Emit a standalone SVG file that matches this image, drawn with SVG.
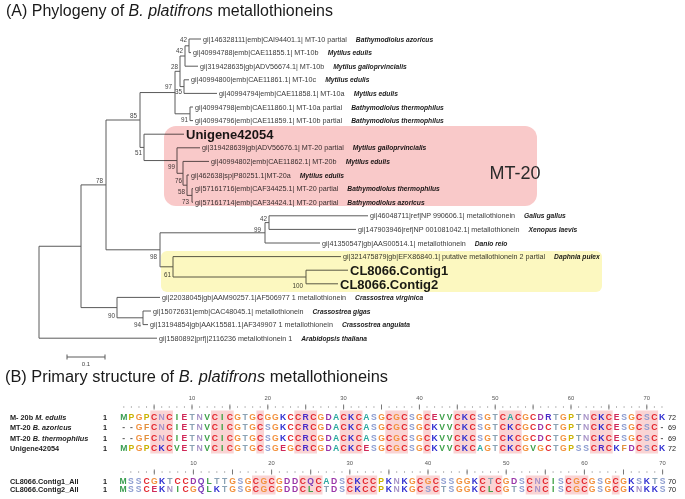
<svg xmlns="http://www.w3.org/2000/svg" width="685" height="499" viewBox="0 0 685 499">
<style>
text{font-family:'Liberation Sans',Arial,sans-serif}
.title{font-size:16px;fill:#1a1a1a}
.gi{font-size:7.2px;fill:#3a3a3a}
.sp{font-size:6.7px;font-weight:bold;font-style:italic;fill:#1a1a1a}
.bs{font-size:6.3px;fill:#444;text-anchor:end}
.big{font-size:13px;font-weight:bold;fill:#1a1a1a}
.br{fill:none;stroke:#5a5a5a;stroke-width:1}
.nm{font-size:7.3px;font-weight:bold;fill:#222}
.ct{font-size:7.3px;fill:#222}
.rn{font-size:5.8px;fill:#555;text-anchor:middle}
.seq{font-size:8.6px;font-weight:bold;text-anchor:middle}
.hl{fill:#fad4d4}
.C{fill:#e3262d}.K{fill:#2b2bd0}.R{fill:#4a2bc8}.G{fill:#f2913d}.P{fill:#c9b200}
.M{fill:#3a9e50}.I{fill:#3aa040}.V{fill:#3fa04a}.L{fill:#3fa04a}.F{fill:#e0903c}
.A{fill:#2aa8a0}.E{fill:#d02858}.D{fill:#9a36a8}.S{fill:#8c9cd0}.T{fill:#8aa2b4}
.N{fill:#a894c8}.Q{fill:#7a3ab8}.gap{fill:#666}
</style>

<text class="title" x="6" y="16" textLength="327" lengthAdjust="spacingAndGlyphs">(A) Phylogeny of <tspan font-style="italic">B. platifrons</tspan> metallothioneins</text>

<g id="tree-branches" class="br">
<path d="M39 246.25V338.2M39 246.25H81M39 338.2H157M81 184.9V307.6M81 184.9H106M81 307.6H117M106 120V249.8M106 120H140M106 249.8H160M140 92.55V147.4M140 92.55H175M140 147.4H144M175 71.3V113.8M175 71.3H180M175 113.8H190M180 56V86.6M180 56H185M180 86.6H184M185 45.8V66.2M185 45.8H189M185 66.2H198M189 39V52.6M189 39H201M189 52.6H191M184 79.8V93.4M184 79.8H189M184 93.4H217M190 107V120.6M190 107H193M190 120.6H193M144 134.2V160.55M144 134.2H184M144 160.55H177M177 147.8V173.3M177 147.8H200M177 173.3H183M183 161.4V185.2M183 161.4H209M183 185.2H187M187 175V195.4M187 175H189M187 195.4H192M192 188.6V202.2M192 188.6H193M192 202.2H193M160 232.8V266.8M160 232.8H265M160 266.8H173M265 222.6V243M265 222.6H269M265 243H320M269 215.8V229.4M269 215.8H368M269 229.4H356M173 256.6V277M173 256.6H341M173 277H306M306 270.2V283.8M306 270.2H348M306 283.8H338M117 297.4V317.8M117 297.4H160M117 317.8H143M143 311V324.6M143 311H151M143 324.6H148"/>
</g>

<g id="bootstrap">
<text class="bs" x="187" y="42">42</text>
<text class="bs" x="183" y="53">42</text>
<text class="bs" x="178" y="69">28</text>
<text class="bs" x="172" y="89">97</text>
<text class="bs" x="182" y="94">35</text>
<text class="bs" x="188" y="121.5">91</text>
<text class="bs" x="137" y="117.5">85</text>
<text class="bs" x="142" y="155">51</text>
<text class="bs" x="103" y="182.5">78</text>
<text class="bs" x="175" y="169">99</text>
<text class="bs" x="182" y="182.5">76</text>
<text class="bs" x="185" y="194">58</text>
<text class="bs" x="189" y="204">73</text>
<text class="bs" x="267" y="220.5">42</text>
<text class="bs" x="261" y="231.5">99</text>
<text class="bs" x="157" y="259">98</text>
<text class="bs" x="171" y="276.5">61</text>
<text class="bs" x="303" y="287.5">100</text>
<text class="bs" x="115" y="317.5">90</text>
<text class="bs" x="141" y="327">94</text>
</g>

<g id="leaf1"><text class="gi" x="203" y="41.5">gi|146328111|emb|CAI94401.1| MT-10 partial<tspan class="sp" dx="9">Bathymodiolus azoricus</tspan></text></g>
<g id="leaf2"><text class="gi" x="193" y="55.1">gi|40994788|emb|CAE11855.1| MT-10b<tspan class="sp" dx="9">Mytilus edulis</tspan></text></g>
<g id="leaf3"><text class="gi" x="200" y="68.7">gi|319428635|gb|ADV56674.1| MT-10b<tspan class="sp" dx="9">Mytilus galloprvincialis</tspan></text></g>
<g id="leaf4"><text class="gi" x="191" y="82.3">gi|40994800|emb|CAE11861.1| MT-10c<tspan class="sp" dx="9">Mytilus edulis</tspan></text></g>
<g id="leaf5"><text class="gi" x="219" y="95.9">gi|40994794|emb|CAE11858.1| MT-10a<tspan class="sp" dx="9">Mytilus edulis</tspan></text></g>
<g id="leaf6"><text class="gi" x="195" y="109.5">gi|40994798|emb|CAE11860.1| MT-10a partial<tspan class="sp" dx="9">Bathymodiolus thermophilus</tspan></text></g>
<g id="leaf7"><text class="gi" x="195" y="123.1">gi|40994796|emb|CAE11859.1| MT-10b partial<tspan class="sp" dx="9">Bathymodiolus thermophilus</tspan></text></g>
<g id="leaf8"><text class="big" x="186" y="138.9">Unigene42054</text></g>
<g id="leaf9"><text class="gi" x="202" y="150.3">gi|319428639|gb|ADV56676.1| MT-20 partial<tspan class="sp" dx="9">Mytilus galloprvincialis</tspan></text></g>
<g id="leaf10"><text class="gi" x="211" y="163.9">gi|40994802|emb|CAE11862.1| MT-20b<tspan class="sp" dx="9">Mytilus edulis</tspan></text></g>
<g id="leaf11"><text class="gi" x="191" y="177.5">gi|462638|sp|P80251.1|MT-20a<tspan class="sp" dx="9">Mytilus edulis</tspan></text></g>
<g id="leaf12"><text class="gi" x="195" y="191.1">gi|57161716|emb|CAF34425.1| MT-20 partial<tspan class="sp" dx="9">Bathymodiolus thermophilus</tspan></text></g>
<g id="leaf13"><text class="gi" x="195" y="204.7">gi|57161714|emb|CAF34424.1| MT-20 partial<tspan class="sp" dx="9">Bathymodiolus azoricus</tspan></text></g>
<g id="leaf14"><text class="gi" x="370" y="218.3">gi|46048711|ref|NP 990606.1| metallothionein<tspan class="sp" dx="9">Gallus gallus</tspan></text></g>
<g id="leaf15"><text class="gi" x="358" y="231.9">gi|147903946|ref|NP 001081042.1| metallothionein<tspan class="sp" dx="9">Xenopus laevis</tspan></text></g>
<g id="leaf16"><text class="gi" x="322" y="245.5">gi|41350547|gb|AAS00514.1| metallothionein<tspan class="sp" dx="9">Danio reio</tspan></text></g>
<g id="leaf17"><text class="gi" x="343" y="259.1">gi|321475879|gb|EFX86840.1| putative metallothionein 2 partial<tspan class="sp" dx="9">Daphnia pulex</tspan></text></g>
<g id="leaf18"><text class="big" x="350" y="274.9">CL8066.Contig1</text></g>
<g id="leaf19"><text class="big" x="340" y="288.5">CL8066.Contig2</text></g>
<g id="leaf20"><text class="gi" x="162" y="299.9">gi|22038045|gb|AAM90257.1|AF506977 1 metallothionein<tspan class="sp" dx="9">Crassostrea virginica</tspan></text></g>
<g id="leaf21"><text class="gi" x="153" y="313.5">gi|15072631|emb|CAC48045.1| metallothionein<tspan class="sp" dx="9">Crassostrea gigas</tspan></text></g>
<g id="leaf22"><text class="gi" x="150" y="327.1">gi|13194854|gb|AAK15581.1|AF349907 1 metallothionein<tspan class="sp" dx="9">Crassostrea angulata</tspan></text></g>
<g id="leaf23"><text class="gi" x="159" y="340.7">gi|1580892|prf||2116236 metallothionein 1<tspan class="sp" dx="9">Arabidopsis thaliana</tspan></text></g>

<g id="box-mt20">
<rect x="164" y="126" width="373" height="80" rx="12" fill="#f9c9c9" style="mix-blend-mode:multiply"/>
<text x="515" y="179" font-size="18" text-anchor="middle" fill="#2a2a2a">MT-20</text>
</g>
<g id="box-contig">
<rect x="161" y="251" width="441" height="41" rx="6" fill="#fcf8c0" style="mix-blend-mode:multiply"/>
</g>

<g id="scale-bar">
<path class="br" d="M67 357H105M67 354.5V359.5M105 354.5V359.5"/>
<text x="86" y="365.5" font-size="6" text-anchor="middle" fill="#444">0.1</text>
</g>

<text class="title" x="5" y="382" textLength="383" lengthAdjust="spacingAndGlyphs">(B) Primary structure of <tspan font-style="italic">B. platifrons</tspan> metallothioneins</text>

<g id="alignment-block1">
<g class="hl">
<rect x="150.3" y="410.5" width="22.7" height="43"/>
<rect x="211" y="410.5" width="22.7" height="43"/>
<rect x="256.4" y="410.5" width="7.6" height="43"/>
<rect x="294.3" y="410.5" width="22.7" height="43"/>
<rect x="339.8" y="410.5" width="22.7" height="43"/>
<rect x="385.3" y="410.5" width="22.7" height="43"/>
<rect x="423.2" y="410.5" width="7.6" height="43"/>
<rect x="453.5" y="410.5" width="22.7" height="43"/>
<rect x="499" y="410.5" width="22.7" height="43"/>
<rect x="590" y="410.5" width="22.7" height="43"/>
<rect x="635.4" y="410.5" width="22.7" height="43"/>
</g>
<line x1="123.3" y1="407" x2="663" y2="407" stroke="#777" stroke-width="1" stroke-dasharray="1 6.58"/>
<line x1="153.6" y1="407" x2="648" y2="407" stroke="#777" stroke-width="5" stroke-dasharray="1 36.9"/>
<text class="rn" x="192" y="400">10</text><text class="rn" x="267.8" y="400">20</text><text class="rn" x="343.6" y="400">30</text><text class="rn" x="419.4" y="400">40</text><text class="rn" x="495.2" y="400">50</text><text class="rn" x="571" y="400">60</text><text class="rn" x="646.8" y="400">70</text>
<text class="nm" x="10" y="419.5">M- 20b <tspan font-style="italic">M. edulis</tspan></text>
<text class="nm" x="10" y="430">MT-20 <tspan font-style="italic">B. azoricus</tspan></text>
<text class="nm" x="10" y="440.6">MT-20 <tspan font-style="italic">B. thermophilus</tspan></text>
<text class="nm" x="10" y="451.1">Unigene42054</text>
<text class="nm" x="103" y="419.5">1</text><text class="nm" x="103" y="430">1</text><text class="nm" x="103" y="440.6">1</text><text class="nm" x="103" y="451.1">1</text>
<text class="ct" x="668" y="419.5">72</text><text class="ct" x="668" y="430">69</text><text class="ct" x="668" y="440.6">69</text><text class="ct" x="668" y="451.1">72</text>
<text class="seq" y="419.5" x="123.8 131.4 139 146.5 154.1 161.7 169.3 176.9 184.4 192 199.6 207.2 214.8 222.3 229.9 237.5 245.1 252.7 260.2 267.8 275.4 283 290.6 298.1 305.7 313.3 320.9 328.5 336 343.6 351.2 358.8 366.4 373.9 381.5 389.1 396.7 404.3 411.8 419.4 427 434.6 442.2 449.7 457.3 464.9 472.5 480.1 487.6 495.2 502.8 510.4 518 525.5 533.1 540.7 548.3 555.9 563.4 571 578.6 586.2 593.8 601.3 608.9 616.5 624.1 631.7 639.2 646.8 654.4 662"><tspan class="M">M</tspan><tspan class="P">P</tspan><tspan class="G">G</tspan><tspan class="P">P</tspan><tspan class="C">C</tspan><tspan class="N">N</tspan><tspan class="C">C</tspan><tspan class="I">I</tspan><tspan class="E">E</tspan><tspan class="T">T</tspan><tspan class="N">N</tspan><tspan class="V">V</tspan><tspan class="C">C</tspan><tspan class="I">I</tspan><tspan class="C">C</tspan><tspan class="G">G</tspan><tspan class="T">T</tspan><tspan class="G">G</tspan><tspan class="C">C</tspan><tspan class="G">GG</tspan><tspan class="K">K</tspan><tspan class="C">CC</tspan><tspan class="R">R</tspan><tspan class="C">C</tspan><tspan class="G">G</tspan><tspan class="D">D</tspan><tspan class="A">A</tspan><tspan class="C">C</tspan><tspan class="K">K</tspan><tspan class="C">C</tspan><tspan class="A">A</tspan><tspan class="S">S</tspan><tspan class="G">G</tspan><tspan class="C">C</tspan><tspan class="G">G</tspan><tspan class="C">C</tspan><tspan class="S">S</tspan><tspan class="G">G</tspan><tspan class="C">C</tspan><tspan class="E">E</tspan><tspan class="V">VV</tspan><tspan class="C">C</tspan><tspan class="K">K</tspan><tspan class="C">C</tspan><tspan class="S">S</tspan><tspan class="G">G</tspan><tspan class="T">T</tspan><tspan class="C">C</tspan><tspan class="A">A</tspan><tspan class="C">C</tspan><tspan class="G">G</tspan><tspan class="C">C</tspan><tspan class="D">D</tspan><tspan class="R">R</tspan><tspan class="T">T</tspan><tspan class="G">G</tspan><tspan class="P">P</tspan><tspan class="T">T</tspan><tspan class="N">N</tspan><tspan class="C">C</tspan><tspan class="K">K</tspan><tspan class="C">C</tspan><tspan class="E">E</tspan><tspan class="S">S</tspan><tspan class="G">G</tspan><tspan class="C">C</tspan><tspan class="S">S</tspan><tspan class="C">C</tspan><tspan class="K">K</tspan></text>
<text class="seq" y="430" x="123.8 131.4 139 146.5 154.1 161.7 169.3 176.9 184.4 192 199.6 207.2 214.8 222.3 229.9 237.5 245.1 252.7 260.2 267.8 275.4 283 290.6 298.1 305.7 313.3 320.9 328.5 336 343.6 351.2 358.8 366.4 373.9 381.5 389.1 396.7 404.3 411.8 419.4 427 434.6 442.2 449.7 457.3 464.9 472.5 480.1 487.6 495.2 502.8 510.4 518 525.5 533.1 540.7 548.3 555.9 563.4 571 578.6 586.2 593.8 601.3 608.9 616.5 624.1 631.7 639.2 646.8 654.4 662"><tspan class="gap">--</tspan><tspan class="G">G</tspan><tspan class="F">F</tspan><tspan class="C">C</tspan><tspan class="N">N</tspan><tspan class="C">C</tspan><tspan class="I">I</tspan><tspan class="E">E</tspan><tspan class="T">T</tspan><tspan class="N">N</tspan><tspan class="V">V</tspan><tspan class="C">C</tspan><tspan class="I">I</tspan><tspan class="C">C</tspan><tspan class="G">G</tspan><tspan class="T">T</tspan><tspan class="G">G</tspan><tspan class="C">C</tspan><tspan class="S">S</tspan><tspan class="G">G</tspan><tspan class="K">K</tspan><tspan class="C">CC</tspan><tspan class="R">R</tspan><tspan class="C">C</tspan><tspan class="G">G</tspan><tspan class="D">D</tspan><tspan class="A">A</tspan><tspan class="C">C</tspan><tspan class="K">K</tspan><tspan class="C">C</tspan><tspan class="A">A</tspan><tspan class="S">S</tspan><tspan class="G">G</tspan><tspan class="C">C</tspan><tspan class="G">G</tspan><tspan class="C">C</tspan><tspan class="S">S</tspan><tspan class="G">G</tspan><tspan class="C">C</tspan><tspan class="K">K</tspan><tspan class="V">VV</tspan><tspan class="C">C</tspan><tspan class="K">K</tspan><tspan class="C">C</tspan><tspan class="S">S</tspan><tspan class="G">G</tspan><tspan class="T">T</tspan><tspan class="C">C</tspan><tspan class="K">K</tspan><tspan class="C">C</tspan><tspan class="G">G</tspan><tspan class="C">C</tspan><tspan class="D">D</tspan><tspan class="C">C</tspan><tspan class="T">T</tspan><tspan class="G">G</tspan><tspan class="P">P</tspan><tspan class="T">T</tspan><tspan class="N">N</tspan><tspan class="C">C</tspan><tspan class="K">K</tspan><tspan class="C">C</tspan><tspan class="E">E</tspan><tspan class="S">S</tspan><tspan class="G">G</tspan><tspan class="C">C</tspan><tspan class="S">S</tspan><tspan class="C">C</tspan><tspan class="gap">-</tspan></text>
<text class="seq" y="440.6" x="123.8 131.4 139 146.5 154.1 161.7 169.3 176.9 184.4 192 199.6 207.2 214.8 222.3 229.9 237.5 245.1 252.7 260.2 267.8 275.4 283 290.6 298.1 305.7 313.3 320.9 328.5 336 343.6 351.2 358.8 366.4 373.9 381.5 389.1 396.7 404.3 411.8 419.4 427 434.6 442.2 449.7 457.3 464.9 472.5 480.1 487.6 495.2 502.8 510.4 518 525.5 533.1 540.7 548.3 555.9 563.4 571 578.6 586.2 593.8 601.3 608.9 616.5 624.1 631.7 639.2 646.8 654.4 662"><tspan class="gap">--</tspan><tspan class="G">G</tspan><tspan class="F">F</tspan><tspan class="C">C</tspan><tspan class="N">N</tspan><tspan class="C">C</tspan><tspan class="I">I</tspan><tspan class="E">E</tspan><tspan class="T">T</tspan><tspan class="N">N</tspan><tspan class="V">V</tspan><tspan class="C">C</tspan><tspan class="I">I</tspan><tspan class="C">C</tspan><tspan class="G">G</tspan><tspan class="T">T</tspan><tspan class="G">G</tspan><tspan class="C">C</tspan><tspan class="S">S</tspan><tspan class="G">G</tspan><tspan class="K">K</tspan><tspan class="C">CC</tspan><tspan class="R">R</tspan><tspan class="C">C</tspan><tspan class="G">G</tspan><tspan class="D">D</tspan><tspan class="A">A</tspan><tspan class="C">C</tspan><tspan class="K">K</tspan><tspan class="C">C</tspan><tspan class="A">A</tspan><tspan class="S">S</tspan><tspan class="G">G</tspan><tspan class="C">C</tspan><tspan class="G">G</tspan><tspan class="C">C</tspan><tspan class="S">S</tspan><tspan class="G">G</tspan><tspan class="C">C</tspan><tspan class="K">K</tspan><tspan class="V">VV</tspan><tspan class="C">C</tspan><tspan class="K">K</tspan><tspan class="C">C</tspan><tspan class="S">S</tspan><tspan class="G">G</tspan><tspan class="T">T</tspan><tspan class="C">C</tspan><tspan class="K">K</tspan><tspan class="C">C</tspan><tspan class="G">G</tspan><tspan class="C">C</tspan><tspan class="D">D</tspan><tspan class="C">C</tspan><tspan class="T">T</tspan><tspan class="G">G</tspan><tspan class="P">P</tspan><tspan class="T">T</tspan><tspan class="N">N</tspan><tspan class="C">C</tspan><tspan class="K">K</tspan><tspan class="C">C</tspan><tspan class="E">E</tspan><tspan class="S">S</tspan><tspan class="G">G</tspan><tspan class="C">C</tspan><tspan class="S">S</tspan><tspan class="C">C</tspan><tspan class="gap">-</tspan></text>
<text class="seq" y="451.1" x="123.8 131.4 139 146.5 154.1 161.7 169.3 176.9 184.4 192 199.6 207.2 214.8 222.3 229.9 237.5 245.1 252.7 260.2 267.8 275.4 283 290.6 298.1 305.7 313.3 320.9 328.5 336 343.6 351.2 358.8 366.4 373.9 381.5 389.1 396.7 404.3 411.8 419.4 427 434.6 442.2 449.7 457.3 464.9 472.5 480.1 487.6 495.2 502.8 510.4 518 525.5 533.1 540.7 548.3 555.9 563.4 571 578.6 586.2 593.8 601.3 608.9 616.5 624.1 631.7 639.2 646.8 654.4 662"><tspan class="M">M</tspan><tspan class="P">P</tspan><tspan class="G">G</tspan><tspan class="P">P</tspan><tspan class="C">C</tspan><tspan class="K">K</tspan><tspan class="C">C</tspan><tspan class="V">V</tspan><tspan class="E">E</tspan><tspan class="T">T</tspan><tspan class="N">N</tspan><tspan class="V">V</tspan><tspan class="C">C</tspan><tspan class="I">I</tspan><tspan class="C">C</tspan><tspan class="G">G</tspan><tspan class="T">T</tspan><tspan class="G">G</tspan><tspan class="C">C</tspan><tspan class="S">S</tspan><tspan class="G">G</tspan><tspan class="E">E</tspan><tspan class="G">G</tspan><tspan class="C">C</tspan><tspan class="R">R</tspan><tspan class="C">C</tspan><tspan class="G">G</tspan><tspan class="D">D</tspan><tspan class="A">A</tspan><tspan class="C">C</tspan><tspan class="K">K</tspan><tspan class="C">C</tspan><tspan class="E">E</tspan><tspan class="S">S</tspan><tspan class="G">G</tspan><tspan class="C">C</tspan><tspan class="G">G</tspan><tspan class="C">C</tspan><tspan class="S">S</tspan><tspan class="G">G</tspan><tspan class="C">C</tspan><tspan class="K">K</tspan><tspan class="V">VV</tspan><tspan class="C">C</tspan><tspan class="K">K</tspan><tspan class="C">C</tspan><tspan class="A">A</tspan><tspan class="G">G</tspan><tspan class="T">T</tspan><tspan class="C">C</tspan><tspan class="K">K</tspan><tspan class="C">C</tspan><tspan class="G">G</tspan><tspan class="V">V</tspan><tspan class="G">G</tspan><tspan class="C">C</tspan><tspan class="T">T</tspan><tspan class="G">G</tspan><tspan class="P">P</tspan><tspan class="S">SS</tspan><tspan class="C">C</tspan><tspan class="R">R</tspan><tspan class="C">C</tspan><tspan class="K">K</tspan><tspan class="F">F</tspan><tspan class="D">D</tspan><tspan class="C">C</tspan><tspan class="S">S</tspan><tspan class="C">C</tspan><tspan class="K">K</tspan></text>
</g>

<g id="alignment-block2">
<g class="hl">
<rect x="252" y="475.5" width="23.5" height="19"/>
<rect x="299" y="475.5" width="23.5" height="19"/>
<rect x="345.9" y="475.5" width="31.3" height="19"/>
<rect x="416.3" y="475.5" width="23.5" height="19"/>
<rect x="478.8" y="475.5" width="23.5" height="19"/>
<rect x="525.7" y="475.5" width="23.5" height="19"/>
<rect x="564.8" y="475.5" width="23.5" height="19"/>
<rect x="611.8" y="475.5" width="7.8" height="19"/>
</g>
<line x1="122.5" y1="472" x2="663.5" y2="472" stroke="#777" stroke-width="1" stroke-dasharray="1 6.82"/>
<line x1="153.8" y1="472" x2="664" y2="472" stroke="#777" stroke-width="5" stroke-dasharray="1 38.1"/>
<text class="rn" x="193.4" y="465">10</text><text class="rn" x="271.6" y="465">20</text><text class="rn" x="349.8" y="465">30</text><text class="rn" x="428" y="465">40</text><text class="rn" x="506.2" y="465">50</text><text class="rn" x="584.4" y="465">60</text><text class="rn" x="662.6" y="465">70</text>
<text class="nm" x="10" y="483.5">CL8066.Contig1_All</text>
<text class="nm" x="10" y="492">CL8066.Contig2_All</text>
<text class="nm" x="103" y="483.5">1</text><text class="nm" x="103" y="492">1</text>
<text class="ct" x="668" y="483.5">70</text><text class="ct" x="668" y="492">70</text>
<text class="seq" y="483.5" x="123 130.8 138.6 146.5 154.3 162.1 169.9 177.7 185.6 193.4 201.2 209 216.8 224.7 232.5 240.3 248.1 255.9 263.8 271.6 279.4 287.2 295 302.9 310.7 318.5 326.3 334.1 342 349.8 357.6 365.4 373.2 381.1 388.9 396.7 404.5 412.3 420.2 428 435.8 443.6 451.4 459.3 467.1 474.9 482.7 490.5 498.4 506.2 514 521.8 529.6 537.5 545.3 553.1 560.9 568.7 576.6 584.4 592.2 600 607.8 615.7 623.5 631.3 639.1 646.9 654.8 662.6"><tspan class="M">M</tspan><tspan class="S">SS</tspan><tspan class="C">C</tspan><tspan class="G">G</tspan><tspan class="K">K</tspan><tspan class="T">T</tspan><tspan class="C">CC</tspan><tspan class="D">D</tspan><tspan class="Q">Q</tspan><tspan class="L">L</tspan><tspan class="T">TT</tspan><tspan class="G">G</tspan><tspan class="S">S</tspan><tspan class="G">G</tspan><tspan class="C">C</tspan><tspan class="G">G</tspan><tspan class="C">C</tspan><tspan class="G">G</tspan><tspan class="D">DD</tspan><tspan class="C">C</tspan><tspan class="Q">Q</tspan><tspan class="C">C</tspan><tspan class="A">A</tspan><tspan class="D">D</tspan><tspan class="S">S</tspan><tspan class="C">C</tspan><tspan class="K">K</tspan><tspan class="C">CC</tspan><tspan class="P">P</tspan><tspan class="K">K</tspan><tspan class="N">N</tspan><tspan class="K">K</tspan><tspan class="G">G</tspan><tspan class="C">C</tspan><tspan class="G">G</tspan><tspan class="C">C</tspan><tspan class="S">SS</tspan><tspan class="G">GG</tspan><tspan class="K">K</tspan><tspan class="C">C</tspan><tspan class="T">T</tspan><tspan class="C">C</tspan><tspan class="G">G</tspan><tspan class="D">D</tspan><tspan class="S">S</tspan><tspan class="C">C</tspan><tspan class="N">N</tspan><tspan class="C">C</tspan><tspan class="I">I</tspan><tspan class="S">S</tspan><tspan class="C">C</tspan><tspan class="G">G</tspan><tspan class="C">C</tspan><tspan class="G">G</tspan><tspan class="S">S</tspan><tspan class="G">G</tspan><tspan class="C">C</tspan><tspan class="G">G</tspan><tspan class="K">K</tspan><tspan class="S">S</tspan><tspan class="K">K</tspan><tspan class="T">T</tspan><tspan class="S">S</tspan></text>
<text class="seq" y="492" x="123 130.8 138.6 146.5 154.3 162.1 169.9 177.7 185.6 193.4 201.2 209 216.8 224.7 232.5 240.3 248.1 255.9 263.8 271.6 279.4 287.2 295 302.9 310.7 318.5 326.3 334.1 342 349.8 357.6 365.4 373.2 381.1 388.9 396.7 404.5 412.3 420.2 428 435.8 443.6 451.4 459.3 467.1 474.9 482.7 490.5 498.4 506.2 514 521.8 529.6 537.5 545.3 553.1 560.9 568.7 576.6 584.4 592.2 600 607.8 615.7 623.5 631.3 639.1 646.9 654.8 662.6"><tspan class="M">M</tspan><tspan class="S">SS</tspan><tspan class="C">C</tspan><tspan class="E">E</tspan><tspan class="K">K</tspan><tspan class="N">N</tspan><tspan class="I">I</tspan><tspan class="C">C</tspan><tspan class="G">G</tspan><tspan class="Q">Q</tspan><tspan class="L">L</tspan><tspan class="K">K</tspan><tspan class="T">T</tspan><tspan class="G">G</tspan><tspan class="S">S</tspan><tspan class="G">G</tspan><tspan class="C">C</tspan><tspan class="G">G</tspan><tspan class="C">C</tspan><tspan class="G">G</tspan><tspan class="D">DD</tspan><tspan class="C">C</tspan><tspan class="L">L</tspan><tspan class="C">C</tspan><tspan class="T">T</tspan><tspan class="D">D</tspan><tspan class="S">S</tspan><tspan class="C">C</tspan><tspan class="K">K</tspan><tspan class="C">CC</tspan><tspan class="P">P</tspan><tspan class="K">K</tspan><tspan class="N">N</tspan><tspan class="K">K</tspan><tspan class="G">G</tspan><tspan class="C">C</tspan><tspan class="S">S</tspan><tspan class="C">C</tspan><tspan class="T">T</tspan><tspan class="S">S</tspan><tspan class="G">GG</tspan><tspan class="K">K</tspan><tspan class="C">C</tspan><tspan class="L">L</tspan><tspan class="C">C</tspan><tspan class="G">G</tspan><tspan class="T">T</tspan><tspan class="S">S</tspan><tspan class="C">C</tspan><tspan class="N">N</tspan><tspan class="C">C</tspan><tspan class="I">I</tspan><tspan class="S">S</tspan><tspan class="C">C</tspan><tspan class="G">G</tspan><tspan class="C">C</tspan><tspan class="G">G</tspan><tspan class="S">S</tspan><tspan class="G">G</tspan><tspan class="C">C</tspan><tspan class="G">G</tspan><tspan class="K">K</tspan><tspan class="N">N</tspan><tspan class="K">KK</tspan><tspan class="S">S</tspan></text>
</g>
</svg>
